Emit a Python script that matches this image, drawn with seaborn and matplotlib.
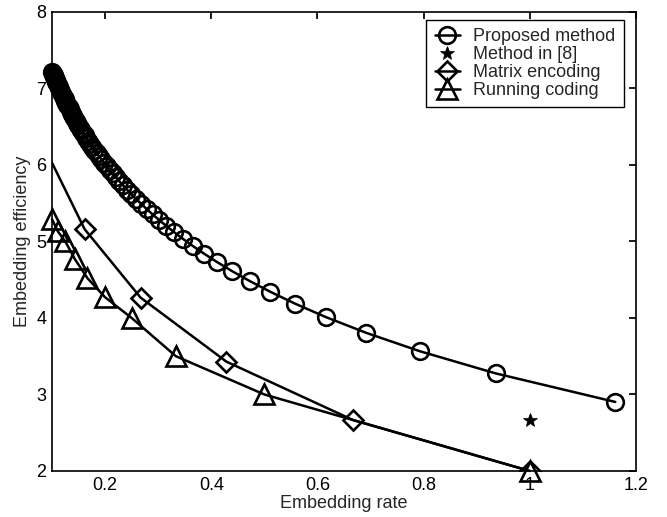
import matplotlib

matplotlib.use("Agg")
import matplotlib.pyplot as plt
import pandas as pd
import seaborn as sns

# Proposed method (rate, efficiency)
proposed_rate = [
    1.1610, 0.9358, 0.7925, 0.6919, 0.6167, 0.5581, 0.5109, 0.4720, 0.4392, 0.4112,
    0.3870, 0.3658, 0.3470, 0.3303, 0.3153, 0.3017, 0.2894, 0.2782, 0.2679, 0.2584,
    0.2496, 0.2415, 0.2339, 0.2269, 0.2203, 0.2141, 0.2083, 0.2028, 0.1977, 0.1928,
    0.1882, 0.1838, 0.1797, 0.1757, 0.1719, 0.1683, 0.1649, 0.1616, 0.1585, 0.1555,
    0.1526, 0.1498, 0.1472, 0.1446, 0.1422, 0.1398, 0.1375, 0.1353, 0.1332, 0.1311,
    0.1291, 0.1272, 0.1253, 0.1235, 0.1218, 0.1201, 0.1185, 0.1169, 0.1153, 0.1138,
    0.1124, 0.1109, 0.1096, 0.1082, 0.1069, 0.1056, 0.1044, 0.1032, 0.1020, 0.1008,
]
proposed_eff = [
    2.9024, 3.2753, 3.5661, 3.8053, 4.0088, 4.1860, 4.3430, 4.4839, 4.6119, 4.7292,
    4.8374, 4.9378, 5.0315, 5.1193, 5.2020, 5.2802, 5.3542, 5.4245, 5.4915, 5.5555,
    5.6167, 5.6754, 5.7317, 5.7858, 5.8380, 5.8885, 5.9371, 5.9840, 6.0295, 6.0737,
    6.1165, 6.1580, 6.1983, 6.2376, 6.2758, 6.3130, 6.3493, 6.3846, 6.4191, 6.4527,
    6.4857, 6.5178, 6.5493, 6.5801, 6.6103, 6.6398, 6.6687, 6.6970, 6.7248, 6.7521,
    6.7788, 6.8051, 6.8309, 6.8562, 6.8811, 6.9055, 6.9296, 6.9532, 6.9766, 6.9994,
    7.0220, 7.0442, 7.0660, 7.0875, 7.1087, 7.1296, 7.1502, 7.1705, 7.1906, 7.2103,
]

# Method in [8]
ref8_rate = [1.0]
ref8_eff = [2.67]

# Matrix encoding
matrix_rate = [1.0, 0.6667, 0.4286, 0.2667, 0.1613, 0.0952]
matrix_eff = [2.0, 2.6667, 3.4286, 4.2667, 5.1613, 6.0952]

# Running coding
running_rate = [1.0, 0.5, 0.3333, 0.25, 0.2, 0.1667, 0.1429, 0.125, 0.1111, 0.1]
running_eff = [2.0, 3.0, 3.5, 4.0, 4.27, 4.52, 4.77, 5.0, 5.13, 5.29]


def main():
    sns.set_theme(style="white")
    plt.rcParams["font.family"] = ["Liberation Sans", "DejaVu Sans"]
    plt.rcParams.update(
        {
            "font.size": 13,
            "axes.labelsize": 13,
            "xtick.labelsize": 13,
            "ytick.labelsize": 13,
            "legend.fontsize": 13,
            "axes.edgecolor": "black",
            "axes.linewidth": 1.2,
            "xtick.direction": "in",
            "ytick.direction": "in",
            "xtick.top": True,
            "ytick.right": True,
            "xtick.major.size": 5,
            "ytick.major.size": 5,
            "xtick.color": "black",
            "ytick.color": "black",
        }
    )

    fig = plt.figure(figsize=(6.67, 5.17), dpi=100)
    ax = fig.add_axes([0.078, 0.089, 0.8755, 0.888])

    line_kws = dict(color="black", linewidth=1.8, markeredgecolor="black",
                    markeredgewidth=1.9, markerfacecolor="none",
                    estimator=None, sort=False)

    df_p = pd.DataFrame({"rate": proposed_rate, "eff": proposed_eff})
    sns.lineplot(data=df_p, x="rate", y="eff", ax=ax, marker="o",
                 markersize=12, label="Proposed method", clip_on=False,
                 **line_kws)

    df_s = pd.DataFrame({"rate": ref8_rate, "eff": ref8_eff})
    sns.lineplot(data=df_s, x="rate", y="eff", ax=ax, marker="*",
                 markersize=10, linestyle="none", color="black",
                 markeredgecolor="black", markeredgewidth=0.5,
                 markerfacecolor="black", estimator=None,
                 label="Method in [8]")

    # the last matrix point lies left of the axes: draw its line, not its marker
    df_m = pd.DataFrame({"rate": matrix_rate, "eff": matrix_eff})
    sns.lineplot(data=df_m, x="rate", y="eff", ax=ax, marker="D",
                 markersize=10, markevery=[0, 1, 2, 3, 4],
                 label="Matrix encoding", **line_kws)

    df_r = pd.DataFrame({"rate": running_rate, "eff": running_eff})
    sns.lineplot(data=df_r, x="rate", y="eff", ax=ax, marker="^",
                 markersize=14, label="Running coding", clip_on=False,
                 **line_kws)

    ax.set_xlim(0.1, 1.2)
    ax.set_ylim(2, 8)
    ax.set_xticks([0.2, 0.4, 0.6, 0.8, 1.0, 1.2])
    ax.set_xticklabels(["0.2", "0.4", "0.6", "0.8", "1", "1.2"])
    ax.set_yticks([2, 3, 4, 5, 6, 7, 8])
    ax.set_xlabel("Embedding rate", labelpad=1)
    ax.set_ylabel("Embedding efficiency", labelpad=4)
    ax.tick_params(pad=4)

    leg = ax.legend(loc="upper right", bbox_to_anchor=(0.979, 0.982),
                    frameon=True, fancybox=False, edgecolor="black",
                    framealpha=1, borderpad=0.45, handlelength=1.4,
                    handletextpad=0.75, labelspacing=0.05, borderaxespad=0)
    leg.get_frame().set_linewidth(1.0)

    fig.savefig("out.png", dpi=100)
    plt.close(fig)


if __name__ == "__main__":
    main()
